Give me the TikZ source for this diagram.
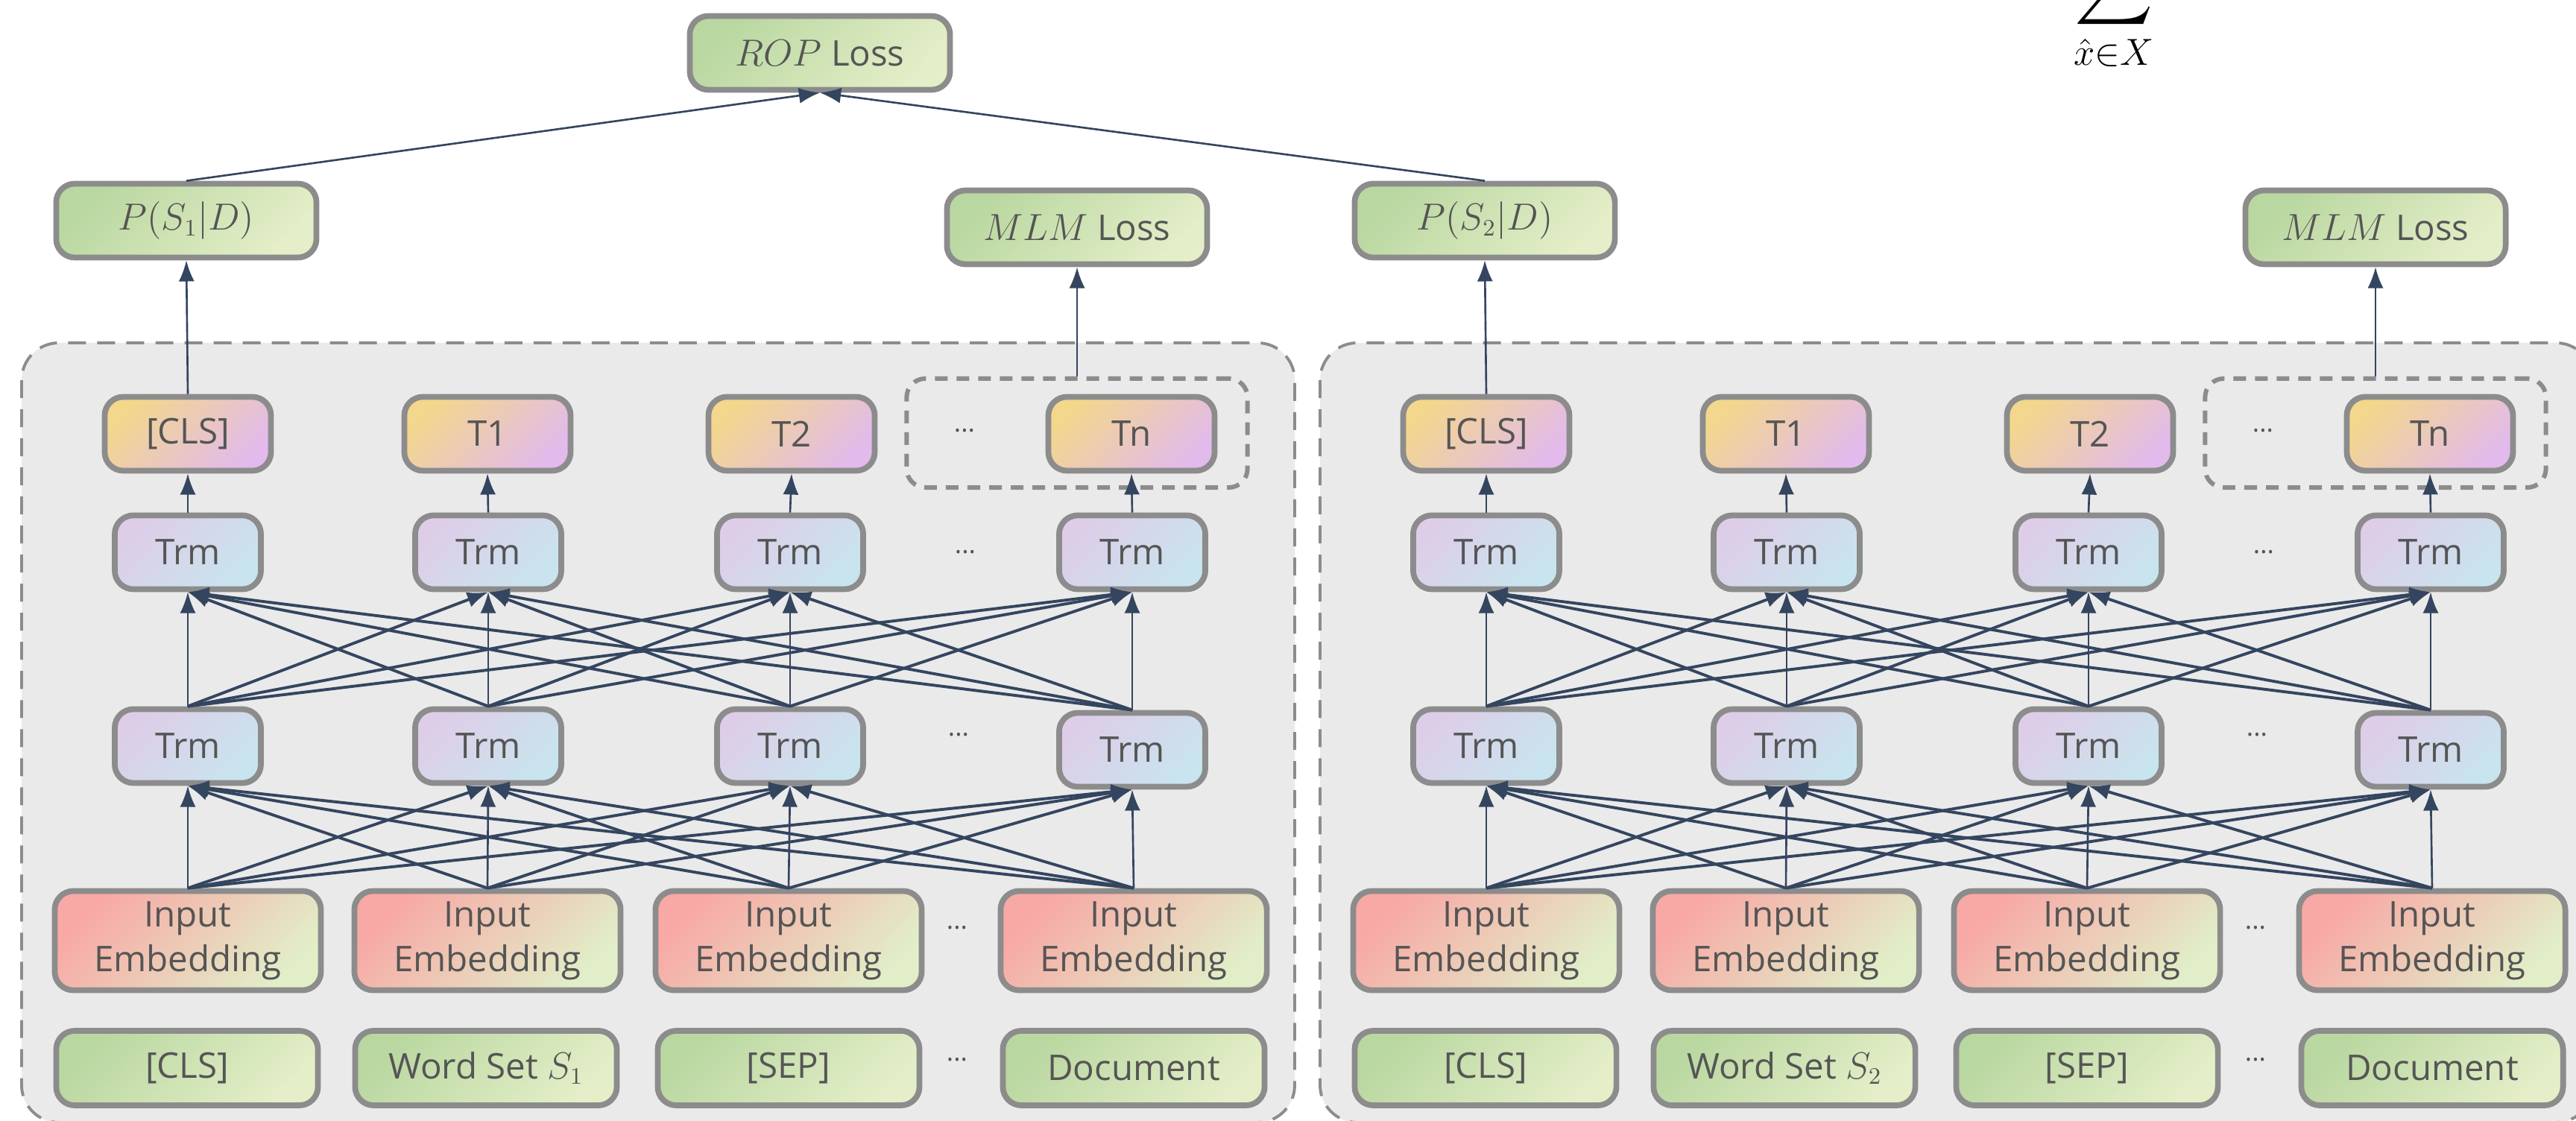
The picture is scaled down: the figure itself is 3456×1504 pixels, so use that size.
\documentclass[tikz,border=0pt]{standalone}
\usepackage{exscale}
\usepackage{fontspec}
\setmainfont{Open Sans}
\usetikzlibrary{arrows.meta}

\definecolor{edgegray}{HTML}{8C8C8C}
\definecolor{panelgray}{HTML}{EAEAEA}
\definecolor{arrowc}{HTML}{34455F}
\definecolor{txtgray}{HTML}{555555}
\definecolor{grnA}{HTML}{B9D7A0}
\definecolor{grnB}{HTML}{E4EEC8}
\definecolor{embA}{HTML}{F8A8A5}
\definecolor{embB}{HTML}{E1EEC8}
\definecolor{trmA}{HTML}{DECDE8}
\definecolor{trmB}{HTML}{C8E4EE}
\definecolor{tokA}{HTML}{F3D78C}
\definecolor{tokB}{HTML}{E2BAEC}

\begin{document}
\begin{tikzpicture}[x=0.01cm,y=-0.01cm,
  font=\fontsize{13.5}{17}\selectfont,
  box/.style={draw=edgegray,line width=2.2pt,rounded corners=2.5mm,text=txtgray,inner sep=0pt,align=center},
  lossbox/.style={box,minimum width=3.49cm,minimum height=0.99cm,top color=grnA,bottom color=grnB,shading angle=45},
  inbox/.style={box,minimum width=3.51cm,minimum height=1.00cm,top color=grnA,bottom color=grnB,shading angle=45},
  embbox/.style={box,minimum width=3.57cm,minimum height=1.33cm,top color=embA,bottom color=embB,shading angle=45},
  trmbox/.style={box,minimum width=1.96cm,minimum height=0.99cm,top color=trmA,bottom color=trmB,shading angle=45},
  tokbox/.style={box,minimum width=2.23cm,minimum height=0.99cm,top color=tokA,bottom color=tokB,shading angle=45},
  grpbox/.style={draw=edgegray,line width=1.7pt,dash pattern=on 1.7mm off 1.2mm,rounded corners=2.5mm,minimum width=4.57cm,minimum height=1.46cm,inner sep=0pt},
  panel/.style={fill=panelgray,draw=edgegray,line width=1.1pt,dash pattern=on 2.4mm off 1.5mm,rounded corners=5mm},
  dots/.style={text=txtgray,font=\fontsize{10}{10}\selectfont,inner sep=0pt},
  arr/.style={-{Latex[length=8pt,width=6pt]},draw=arrowc,line width=1.1pt},
  varr/.style={arr,line width=0.75pt}]
\useasboundingbox (0,0) rectangle (3456,1504);

\draw[panel] (29,460) rectangle (1737,1506);
\draw[panel] (1771,460) rectangle (3479,1506);

\node[lossbox] (rop) at (1100,71) {$ROP$ Loss};
\node[anchor=south,inner sep=0pt,font=\fontsize{22.6}{27}\selectfont] (sumx) at (2836,97) {$\displaystyle\sum_{\hat{x}\in X}$};
\node[anchor=south east,inner sep=0pt,font=\fontsize{22.6}{27}\selectfont] (paren) at (3333,-14) {$\Bigg($};

\foreach \s/\dx in {1/0,2/1742} {
\begin{scope}[shift={(\dx,0)}]
  \node[lossbox] (p\s) at (250,296) {$P(S_\s|D)$};
  \node[lossbox] (mlm\s) at (1445,305) {$MLM$ Loss};
  \node[grpbox] (grp\s) at (1445,581) {};
  \foreach \i/\x/\t in {1/252/{[CLS]},2/654/T1,3/1062/T2,4/1518/Tn}
    \node[tokbox] (tok\s-\i) at (\x,582) {\t};
  \foreach \i/\x in {1/252,2/655,3/1060,4/1519}
    \node[trmbox] (up\s-\i) at (\x,741) {Trm};
  \foreach \i/\x/\y in {1/252/1001,2/655/1001,3/1060/1001,4/1519/1006}
    \node[trmbox] (low\s-\i) at (\x,\y) {Trm};
  \foreach \i/\x in {1/252,2/654,3/1058,4/1521}
    \node[embbox] (emb\s-\i) at (\x,1262) {Input\\Embedding};
  \foreach \i/\x/\t in {1/251/{[CLS]},2/652/{Word Set $S_\s$},3/1058/{[SEP]},4/1521/Document}
    \node[inbox] (in\s-\i) at (\x,1433) {\t};
  \node[dots] (dtok\s) at (1294,578) {...};
  \node[dots] (dup\s) at (1295,741) {...};
  \node[dots] (dlow\s) at (1286,986) {...};
  \node[dots] (demb\s) at (1284,1245) {...};
  \node[dots] (din\s) at (1284,1422) {...};
\end{scope}
  \foreach \i in {1,...,4} {
    \draw[varr] (emb\s-\i.north) -- (low\s-\i.south);
    \draw[varr] (low\s-\i.north) -- (up\s-\i.south);
    \draw[varr] (up\s-\i.north) -- (tok\s-\i.south);
    \foreach \j in {1,...,4} {
      \ifnum\i=\j\else
        \draw[arr] (emb\s-\i.north) -- (low\s-\j.south);
        \draw[arr] (low\s-\i.north) -- (up\s-\j.south);
      \fi
    }
  }
  \draw[varr] (tok\s-1.north) -- (p\s.south);
  \draw[varr] (grp\s.north) -- (mlm\s.south);
  \draw[varr] (p\s.north) -- (rop.south);
}
\end{tikzpicture}
\end{document}
